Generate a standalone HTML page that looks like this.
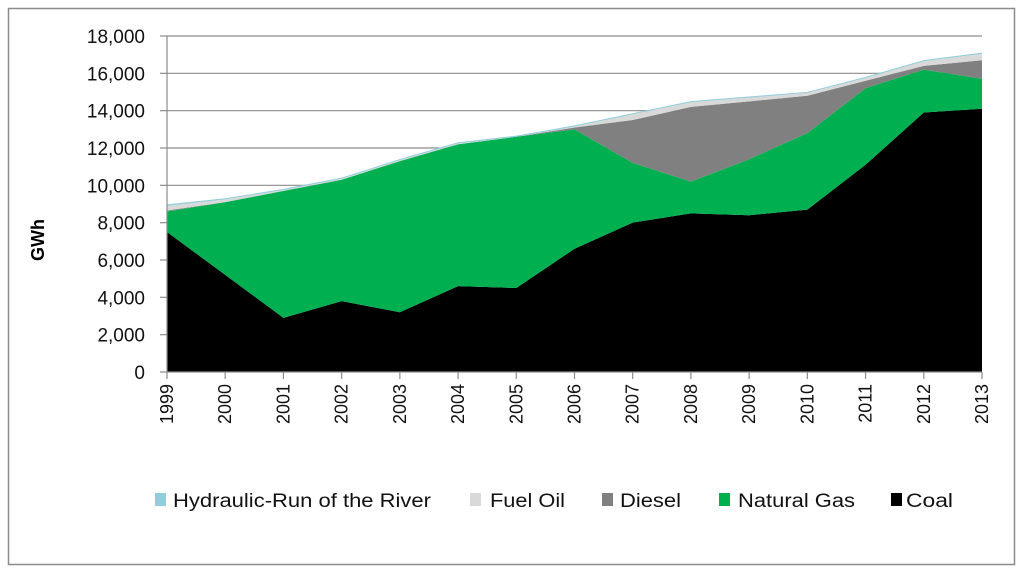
<!DOCTYPE html>
<html><head><meta charset="utf-8"><style>
html,body{margin:0;padding:0;background:#fff;}
svg{display:block;font-family:"Liberation Sans",sans-serif;}
</style></head><body>
<svg id="chart" width="1024" height="573" viewBox="0 0 1024 573">
<rect x="8.5" y="8.5" width="1006" height="556" fill="#fff" stroke="#8c8c8c" stroke-width="1.5"/>
<g id="grid"></g>
<g id="areas"></g>
<g id="axes"></g>
<text x="0" y="0" transform="translate(44,240) rotate(-90)" text-anchor="middle" font-size="18" font-weight="bold" fill="#000">GWh</text>
<g id="legend"></g>
</svg>
<script>
const years = [1999,2000,2001,2002,2003,2004,2005,2006,2007,2008,2009,2010,2011,2012,2013];
const coal = [7500,5200,2900,3800,3200,4600,4500,6600,8000,8500,8400,8700,11100,13900,14100];
const naturalGas = [1100,3900,6800,6500,8100,7600,8100,6400,3200,1700,3000,4100,4100,2300,1600];
const diesel = [50,0,0,0,0,0,0,100,2300,4000,3100,2000,400,200,1000];
const fuelOil = [250,150,50,50,50,50,0,50,300,250,200,150,150,250,350];
const hydro = [80,60,60,60,60,60,60,60,60,60,60,60,60,60,60];
const yTicks = [0,2000,4000,6000,8000,10000,12000,14000,16000,18000];
const seriesNames = ["Coal","Natural Gas","Diesel","Fuel Oil","Hydraulic-Run of the River"];
const seriesColors = ["#000000","#00b050","#808080","#d9d9d9","#92cddc"];

const NS="http://www.w3.org/2000/svg";
const X0=167,X1=982,Y0=372,Y1=36,YMAX=18000;
function xs(i){return X0+(X1-X0)*i/(years.length-1);}
function ys(v){return Y0-(Y0-Y1)*v/YMAX;}
function mk(tag,attrs,parent){const e=document.createElementNS(NS,tag);for(const k in attrs)e.setAttribute(k,attrs[k]);parent.appendChild(e);return e;}

const grid=document.getElementById('grid'),axes=document.getElementById('axes'),areas=document.getElementById('areas'),legend=document.getElementById('legend');
yTicks.forEach(t=>{
  const y=ys(t);
  if(t>0){const g=mk('line',{x1:X0,x2:X1,y1:y,y2:y,stroke:'#8c8c8c','stroke-width':1.2},grid);
  
  }
  const tk=mk('line',{x1:X0-7,x2:X0,y1:y,y2:y,stroke:'#8c8c8c','stroke-width':1.2},axes);
  
  
  const lb=mk('text',{x:X0-22,y:y+7,'text-anchor':'end','font-size':19,fill:'#111'},axes);
  lb.textContent=t.toLocaleString('en-US');
  
  
});

const series=[coal,naturalGas,diesel,fuelOil,hydro];
let base=years.map(()=>0);
series.forEach((s,k)=>{
  const top=base.map((b,i)=>b+s[i]);
  let d='M'+years.map((_,i)=>xs(i)+','+ys(top[i])).join(' L');
  for(let i=years.length-1;i>=0;i--)d+=' L'+xs(i)+','+ys(base[i]);
  d+=' Z';
  const p=mk('path',{d:d,fill:seriesColors[k]},areas);
  
  
  base=top;
});

const ya=mk('line',{x1:X0,x2:X0,y1:Y1,y2:Y0,stroke:'#8c8c8c','stroke-width':1.2},axes);


const xa=mk('line',{x1:X0,x2:X1,y1:Y0,y2:Y0,stroke:'#8c8c8c','stroke-width':1.2},axes);


years.forEach((yr,i)=>{
  const x=xs(i);
  const tk=mk('line',{x1:x,x2:x,y1:Y0,y2:Y0+7,stroke:'#8c8c8c','stroke-width':1.2},axes);
  
  
  const lb=mk('text',{x:0,y:0,transform:'translate('+(x+6)+','+(Y0+12)+') rotate(-90)','text-anchor':'end','font-size':18,fill:'#111'},axes);
  lb.textContent=yr;
  
  
});

const legItems=[[4,155,173,258],[3,470,490,75],[2,602,620,61],[1,719,738,117],[0,891,906,47]];
legItems.forEach(([k,sx,tx,tw])=>{
  const r=mk('rect',{x:sx,y:493,width:11,height:13,fill:seriesColors[k]},legend);
  
  
  const t=mk('text',{x:tx,y:507,'font-size':19,fill:'#111',textLength:tw,lengthAdjust:'spacingAndGlyphs'},legend);
  t.textContent=seriesNames[k];
  
  
});
</script>
</body></html>
